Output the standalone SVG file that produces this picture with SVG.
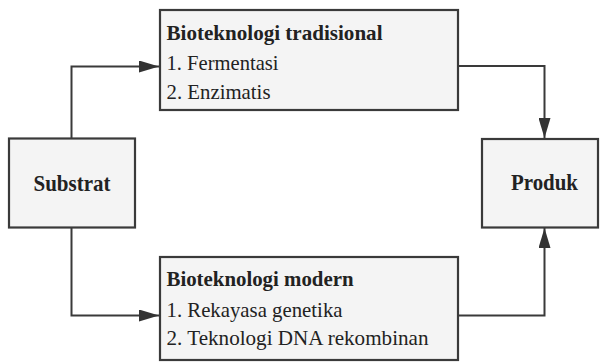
<svg xmlns="http://www.w3.org/2000/svg" width="600" height="362" viewBox="0 0 600 362">
<defs>
<marker id="arr" viewBox="0 0 20 12" refX="20" refY="6" markerWidth="20" markerHeight="12" markerUnits="userSpaceOnUse" orient="auto">
<path d="M0,0 L20,6 L0,12 Z" fill="#333"/>
</marker>
<style>
.box{fill:#f4f4f4;stroke:#3a3a3a;stroke-width:2.2}
.conn{fill:none;stroke:#3a3a3a;stroke-width:2}
.t{font-family:"Liberation Serif","Times New Roman",serif;fill:#222;font-size:21px}
.b{font-weight:bold;font-size:22px}
.c{font-weight:bold;font-size:23px}
</style>
</defs>
<rect width="600" height="362" fill="#ffffff"/>
<g id="connectors">
<path class="conn" d="M71.5,138 V66.5 H159" marker-end="url(#arr)"/>
<path class="conn" d="M71.5,227 V315.5 H159" marker-end="url(#arr)"/>
<path class="conn" d="M458,66 H544.5 V138" marker-end="url(#arr)"/>
<path class="conn" d="M458,315.5 H544.5 V228" marker-end="url(#arr)"/>
</g>
<g id="tradisional">
<rect class="box" x="160" y="10" width="298" height="100"/>
<text class="t b" x="166.5" y="40" textLength="216" lengthAdjust="spacingAndGlyphs">Bioteknologi tradisional</text>
<text class="t" x="166.5" y="70" textLength="112" lengthAdjust="spacingAndGlyphs">1. Fermentasi</text>
<text class="t" x="166.5" y="98.5" textLength="104" lengthAdjust="spacingAndGlyphs">2. Enzimatis</text>
</g>
<g id="modern">
<rect class="box" x="160" y="257" width="298" height="103"/>
<text class="t b" x="166.5" y="286" textLength="187" lengthAdjust="spacingAndGlyphs">Bioteknologi modern</text>
<text class="t" x="166.5" y="316.5" textLength="176" lengthAdjust="spacingAndGlyphs">1. Rekayasa genetika</text>
<text class="t" x="166.5" y="344.5" textLength="262" lengthAdjust="spacingAndGlyphs">2. Teknologi DNA rekombinan</text>
</g>
<g id="substrat">
<rect class="box" x="9" y="138.5" width="126" height="89"/>
<text class="t c" x="33.5" y="191" textLength="77" lengthAdjust="spacingAndGlyphs">Substrat</text>
</g>
<g id="produk">
<rect class="box" x="482" y="139" width="116" height="88.5"/>
<text class="t c" x="511" y="190" textLength="67" lengthAdjust="spacingAndGlyphs">Produk</text>
</g>
</svg>
